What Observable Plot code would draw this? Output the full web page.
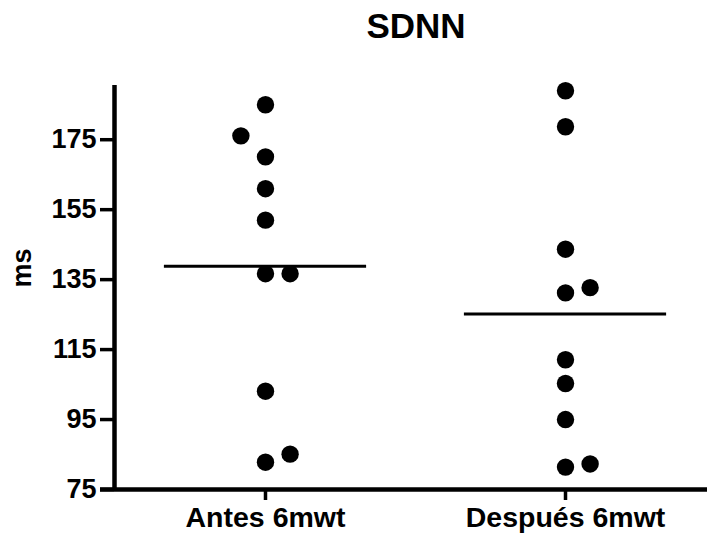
<!DOCTYPE html>
<html><head><meta charset="utf-8">
<script src="https://cdn.jsdelivr.net/npm/d3@7"></script>
<script src="https://cdn.jsdelivr.net/npm/@observablehq/plot@0.6"></script>
<style>
body{margin:0;background:#fff}
#chart svg{font-family:"Liberation Sans",Arial,sans-serif;overflow:visible}
</style>
</head><body><div id="chart"></div>
<script>
const title = "SDNN";
const yLabel = "ms";
const groups = ["Antes 6mwt", "Después 6mwt"];
const antes = [185.0, 176.1, 170.1, 161.0, 152.0, 136.7, 136.7, 103.1, 85.1, 82.8];
const despues = [189.0, 178.7, 143.7, 131.2, 132.7, 112.1, 105.3, 95.0, 81.4, 82.3];
// scatter column slot of each point within its group (-1 left, 0 centre, 1 right)
const antesSlot = [0, -1, 0, 0, 0, 0, 1, 0, 1, 0];
const despuesSlot = [0, 0, 0, 0, 1, 0, 0, 0, 0, 1];
const yTicks = [75, 95, 115, 135, 155, 175];

const series = [antes, despues];
const slots = [antesSlot, despuesSlot];
const points = series.flatMap((vals, g) => vals.map((v, i) => ({g, v, s: slots[g][i]})));
const means = series.map((vals, g) => ({g, m: d3.mean(vals)}));

const xMin = -0.5033, xMax = 1.4733;
const slotW = 0.082, halfLine = 0.337;

const chart = Plot.plot({
  width: 707, height: 535,
  marginLeft: 114, marginRight: 0, marginTop: 85, marginBottom: 46,
  x: {type: "linear", domain: [xMin, xMax], axis: null},
  y: {domain: [75, 190.5], axis: null},
  marks: [
    Plot.ruleY(means, {y: "m", x1: d => d.g - halfLine, x2: d => d.g + halfLine, stroke: "black", strokeWidth: 3}),
    Plot.dot(points, {x: d => d.g + d.s * slotW, y: "v", r: 8.7, fill: "black", stroke: "none"}),
    // y axis
    Plot.ruleX([xMin], {y1: 75, y2: 190.5, stroke: "black", strokeWidth: 4.5}),
    Plot.axisY({ticks: yTicks, tickSize: 14, tickPadding: 4, strokeWidth: 3.5, fontSize: 27, fontWeight: "bold", fill: "black", label: null}),
    Plot.text([yLabel], {frameAnchor: "left", dx: -92, rotate: -90, fontSize: 27, fontWeight: "bold", fill: "black"}),
    // x axis
    Plot.ruleY([75], {x1: xMin - 14/300, x2: xMax, stroke: "black", strokeWidth: 4.5}),
    Plot.axisX({ticks: [0, 1], tickFormat: i => groups[i], tickSize: 11, tickPadding: 6, strokeWidth: 3.5, fontSize: 28.5, fontWeight: "bold", fill: "black", label: null}),
    Plot.text([title], {frameAnchor: "top", dx: 5, dy: -48, lineAnchor: "bottom", fontSize: 35, fontWeight: "bold", fill: "black"})
  ]
});
document.getElementById("chart").append(chart);
</script>
</body></html>
